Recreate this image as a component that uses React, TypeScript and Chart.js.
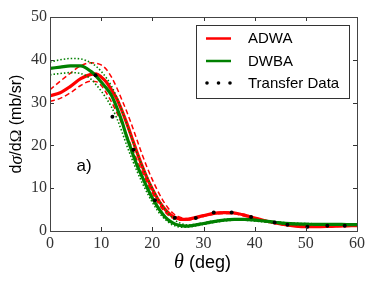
import React, { useEffect, useRef } from "react";
import { Chart, registerables } from "chart.js";

Chart.register(...registerables);

// Scattering angle grid (deg) shared by all theory curves
const ANGLES = [0, 2, 4, 6, 8, 9, 10, 11, 12, 13, 14, 15, 16, 17, 18, 19, 20, 21, 22, 23, 24, 25, 26, 27, 28, 30, 32, 34, 36, 38, 40, 42, 44, 46, 48, 50, 52, 54, 56, 58, 60];

const ADWA = [31.6, 32.3, 33.8, 35.6, 36.6, 36.7, 36.0, 34.8, 33.0, 31.0, 28.3, 25.2, 21.8, 18.4, 15.2, 12.3, 9.8, 7.6, 5.8, 4.4, 3.4, 2.9, 2.7, 2.75, 3.0, 3.6, 4.1, 4.3, 4.2, 3.7, 3.0, 2.4, 1.9, 1.45, 1.15, 1.0, 1.0, 1.05, 1.15, 1.2, 1.25];
const ADWA_UPPER = [33.0, 35.0, 36.9, 38.6, 39.3, 39.2, 38.8, 37.8, 36.0, 33.6, 30.8, 27.9, 24.7, 21.3, 17.9, 14.8, 12.0, 9.5, 7.3, 5.5, 4.2, 3.4, 3.0, 2.9, 3.1, 3.7, 4.2, 4.45, 4.35, 3.85, 3.15, 2.5, 2.0, 1.55, 1.25, 1.1, 1.1, 1.15, 1.25, 1.3, 1.35];
const ADWA_LOWER = [30.3, 31.0, 32.3, 34.0, 35.0, 34.9, 34.0, 32.3, 30.2, 27.8, 25.2, 22.4, 19.5, 16.6, 13.9, 11.3, 8.9, 6.8, 5.1, 3.8, 3.0, 2.6, 2.5, 2.55, 2.8, 3.4, 3.9, 4.1, 4.0, 3.5, 2.85, 2.25, 1.8, 1.35, 1.05, 0.9, 0.9, 0.95, 1.05, 1.1, 1.15];

const DWBA = [38.0, 38.3, 38.6, 38.6, 37.3, 36.2, 34.8, 33.4, 31.7, 29.0, 25.8, 22.0, 18.6, 15.4, 12.7, 10.1, 7.7, 5.7, 4.0, 2.7, 1.9, 1.4, 1.2, 1.15, 1.3, 1.75, 2.2, 2.55, 2.7, 2.7, 2.55, 2.3, 2.05, 1.8, 1.65, 1.6, 1.55, 1.55, 1.55, 1.5, 1.5];
const DWBA_UPPER = [39.5, 40.0, 40.3, 40.2, 39.3, 38.5, 37.3, 35.8, 33.9, 31.4, 28.4, 25.0, 21.5, 18.3, 15.3, 12.6, 10.0, 7.8, 5.9, 4.3, 3.0, 2.1, 1.6, 1.4, 1.5, 1.9, 2.35, 2.7, 2.85, 2.85, 2.7, 2.45, 2.2, 1.95, 1.8, 1.75, 1.7, 1.7, 1.7, 1.65, 1.65];
const DWBA_LOWER = [36.5, 36.8, 37.0, 36.8, 35.5, 34.2, 32.7, 31.0, 29.0, 26.5, 23.4, 20.0, 16.9, 14.0, 11.3, 8.9, 6.7, 4.8, 3.3, 2.2, 1.4, 1.0, 0.9, 0.95, 1.1, 1.55, 2.0, 2.35, 2.5, 2.5, 2.35, 2.1, 1.85, 1.6, 1.5, 1.45, 1.4, 1.4, 1.4, 1.35, 1.35];

// Transfer data points
const DATA_THETA = [8.9, 12.2, 16.3, 20.5, 24.4, 28.5, 32.0, 35.5, 39.3, 43.9, 46.4, 50.3, 54.2, 57.6];
const DATA_XS = [36.4, 26.7, 19.0, 7.2, 3.1, 3.05, 4.3, 4.35, 3.3, 2.0, 1.45, 1.0, 1.2, 1.25];

const X_TICKS = [0, 10, 20, 30, 40, 50, 60];
const Y_TICKS = [0, 10, 20, 30, 40, 50];

const LEGEND_LABELS = ["ADWA", "DWBA", "Transfer Data"];
const PANEL_LABEL = "a)";

const RED = "#ff0000";
const GREEN = "#008000";
const SANS = "'Liberation Sans', Arial, sans-serif";
const SERIF = "'Liberation Serif', 'Times New Roman', serif";

const framePlugin = {
  id: "frameTicks",
  afterDatasetsDraw(chart: any) {
    const { ctx, chartArea: ca, scales } = chart;
    const xs = scales.x, ys = scales.y;
    ctx.save();
    ctx.strokeStyle = "#333";
    ctx.lineWidth = 1;
    ctx.beginPath();
    const tl = 4;
    X_TICKS.forEach((v) => {
      const px = Math.round(xs.getPixelForValue(v)) + 0.5;
      ctx.moveTo(px, ca.bottom);
      ctx.lineTo(px, ca.bottom - tl);
      ctx.moveTo(px, ca.top);
      ctx.lineTo(px, ca.top + tl);
    });
    Y_TICKS.forEach((v) => {
      const py = Math.round(ys.getPixelForValue(v)) + 0.5;
      ctx.moveTo(ca.left, py);
      ctx.lineTo(ca.left + tl, py);
      ctx.moveTo(ca.right, py);
      ctx.lineTo(ca.right - tl, py);
    });
    ctx.stroke();
    ctx.strokeStyle = "#444";
    ctx.strokeRect(Math.round(ca.left) + 0.5, Math.round(ca.top) + 0.5, Math.round(ca.right - ca.left), Math.round(ca.bottom - ca.top));
    ctx.restore();
  },
};

const overlayPlugin = {
  id: "overlay",
  afterDraw(chart: any) {
    const { ctx, chartArea: ca, scales } = chart;
    ctx.save();

    // Panel label
    ctx.fillStyle = "#000";
    ctx.font = `17px ${SANS}`;
    ctx.textAlign = "left";
    ctx.textBaseline = "middle";
    ctx.fillText(PANEL_LABEL, scales.x.getPixelForValue(5.2), scales.y.getPixelForValue(15.2));

    // Legend box
    const bx = ca.right - 161, by = ca.top + 8, bw = 153, bh = 73;
    ctx.fillStyle = "#fff";
    ctx.fillRect(bx, by, bw, bh);
    ctx.strokeStyle = "#333";
    ctx.lineWidth = 1;
    ctx.strokeRect(Math.round(bx) + 0.5, Math.round(by) + 0.5, bw, bh);
    const rowY = [by + 13.5, by + 36, by + 58];
    const ds = chart.data.datasets;
    LEGEND_LABELS.forEach((lab, i) => {
      const d = ds.find((q: any) => q.label === lab);
      const y = rowY[i];
      const x0 = bx + 10, x1 = bx + 35;
      if (d.showLine === false) {
        ctx.fillStyle = "#000";
        [x0 + 1, (x0 + x1) / 2, x1 - 1].forEach((cx) => {
          ctx.beginPath();
          ctx.arc(cx, y, 1.8, 0, Math.PI * 2);
          ctx.fill();
        });
      } else {
        ctx.strokeStyle = d.borderColor;
        ctx.lineWidth = 2.5;
        ctx.beginPath();
        ctx.moveTo(x0, y);
        ctx.lineTo(x1, y);
        ctx.stroke();
      }
      ctx.fillStyle = "#000";
      ctx.font = `15px ${SANS}`;
      ctx.textAlign = "left";
      ctx.textBaseline = "middle";
      ctx.fillText(lab, bx + 52, y + 0.5);
    });

    // Axis titles with mixed fonts
    const drawSegs = (segs: [string, string][], cx: number, cy: number) => {
      let total = 0;
      segs.forEach(([t, f]) => { ctx.font = f; total += ctx.measureText(t).width; });
      let x = cx - total / 2;
      ctx.textAlign = "left";
      ctx.textBaseline = "middle";
      ctx.fillStyle = "#000";
      segs.forEach(([t, f]) => {
        ctx.font = f;
        ctx.fillText(t, x, cy);
        x += ctx.measureText(t).width;
      });
    };
    const cxPlot = (ca.left + ca.right) / 2;
    drawSegs([["θ", `italic 20px ${SERIF}`], [" (deg)", `18px ${SANS}`]], cxPlot - 1, 263);

    ctx.save();
    ctx.translate(17, (ca.top + ca.bottom) / 2);
    ctx.rotate(-Math.PI / 2);
    drawSegs([
      ["d", `16px ${SANS}`],
      ["σ", `italic 18px ${SERIF}`],
      ["/d", `16px ${SANS}`],
      ["Ω", `17px ${SERIF}`],
      [" (mb/sr)", `16px ${SANS}`],
    ], 0, 0);
    ctx.restore();

    ctx.restore();
  },
};

export default function App() {
  const ref = useRef<HTMLCanvasElement>(null);
  useEffect(() => {
    document.body.style.margin = "0";
    const pts = (ys: number[]) => ANGLES.map((a, i) => ({ x: a, y: ys[i] }));
    const line = (label: string, ys: number[], color: string, width: number, dash: number[], order: number) => ({
      label,
      data: pts(ys),
      borderColor: color,
      backgroundColor: color,
      borderWidth: width,
      borderDash: dash,
      pointRadius: 0,
      fill: false,
      cubicInterpolationMode: "monotone" as const,
      order,
    });
    const chart = new Chart(ref.current!, {
      type: "line",
      data: {
        datasets: [
          {
            label: "Transfer Data",
            data: DATA_THETA.map((t, i) => ({ x: t, y: DATA_XS[i] })),
            showLine: false,
            pointRadius: 2,
            pointBackgroundColor: "#000",
            pointBorderWidth: 0,
            borderColor: "#000",
            order: 0,
          } as any,
          line("DWBA", DWBA, GREEN, 3.2, [], 1),
          line("DWBA upper", DWBA_UPPER, GREEN, 1.6, [1.5, 2], 2),
          line("DWBA lower", DWBA_LOWER, GREEN, 1.6, [1.5, 2], 2),
          line("ADWA", ADWA, RED, 3.2, [], 3),
          line("ADWA upper", ADWA_UPPER, RED, 1.5, [5, 3], 4),
          line("ADWA lower", ADWA_LOWER, RED, 1.5, [5, 3], 4),
        ],
      },
      options: {
        responsive: false,
        animation: false,
        devicePixelRatio: 1,
        layout: { padding: { top: 17, right: 17, left: 0, bottom: 0 } },
        plugins: { legend: { display: false }, tooltip: { enabled: false } },
        scales: {
          x: {
            type: "linear",
            min: 0,
            max: 60,
            afterFit: (s: any) => { s.height = 51; },
            afterBuildTicks: (s: any) => { s.ticks = X_TICKS.map((v) => ({ value: v })); },
            grid: { display: false, drawTicks: false },
            border: { display: false },
            ticks: { padding: 3, color: "#333", font: { family: SERIF, size: 16 }, maxRotation: 0 },
          },
          y: {
            type: "linear",
            min: 0,
            max: 50,
            afterFit: (s: any) => { s.width = 50; },
            afterBuildTicks: (s: any) => { s.ticks = Y_TICKS.map((v) => ({ value: v })); },
            grid: { display: false, drawTicks: false },
            border: { display: false },
            ticks: { padding: 3, color: "#333", font: { family: SERIF, size: 16 } },
          },
        },
      },
      plugins: [framePlugin, overlayPlugin],
    });
    return () => chart.destroy();
  }, []);
  return <canvas ref={ref} width={374} height={282} style={{ display: "block" }} />;
}
